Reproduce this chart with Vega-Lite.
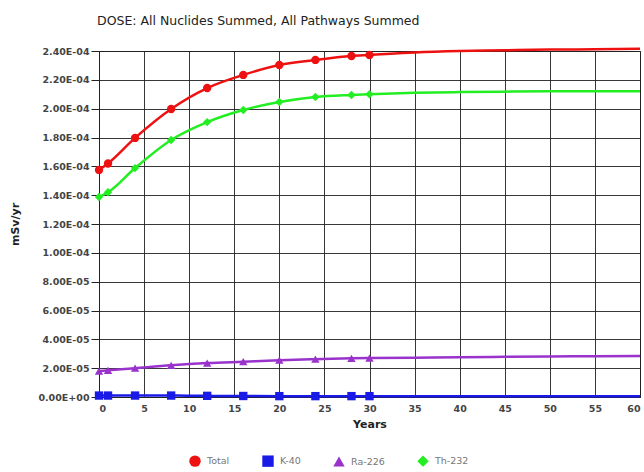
{
  "$schema": "https://vega.github.io/schema/vega-lite/v6.json",
  "width": 541,
  "height": 346,
  "autosize": "none",
  "padding": {"left": 99, "top": 51, "right": 4, "bottom": 75},
  "background": "white",
  "title": {"text": "DOSE: All Nuclides Summed, All Pathways Summed", "font": "DejaVu Sans", "fontSize": 12.5, "fontWeight": "normal", "color": "#222", "offset": 16, "anchor": "start", "frame": "group", "dx": -2},
  "config": {
    "view": {"stroke": "#222", "strokeWidth": 1},
    "axis": {"labelFont": "DejaVu Sans", "titleFont": "DejaVu Sans", "labelFontSize": 9.5, "labelFontWeight": "bold", "labelColor": "#444", "gridColor": "#222", "gridOpacity": 0.9, "domainColor": "#222", "tickColor": "#222", "titleFontSize": 11, "titleFontWeight": "bold", "titleColor": "#222"},
    "legend": {"labelFont": "DejaVu Sans", "labelFontSize": 9.5, "labelColor": "#777", "symbolSize": 130, "symbolStrokeWidth": 0, "columnPadding": 32, "labelOffset": 6}
  },
  "data": {"values": [
    {"year": 0, "series": "Total", "value": 1.575e-4, "m": true},
    {"year": 1, "series": "Total", "value": 1.62e-4, "m": true},
    {"year": 4, "series": "Total", "value": 1.797e-4, "m": true},
    {"year": 8, "series": "Total", "value": 1.998e-4, "m": true},
    {"year": 12, "series": "Total", "value": 2.143e-4, "m": true},
    {"year": 16, "series": "Total", "value": 2.234e-4, "m": true},
    {"year": 20, "series": "Total", "value": 2.303e-4, "m": true},
    {"year": 24, "series": "Total", "value": 2.338e-4, "m": true},
    {"year": 28, "series": "Total", "value": 2.365e-4, "m": true},
    {"year": 30, "series": "Total", "value": 2.372e-4, "m": true},
    {"year": 35, "series": "Total", "value": 2.39e-4, "m": false},
    {"year": 40, "series": "Total", "value": 2.40e-4, "m": false},
    {"year": 45, "series": "Total", "value": 2.405e-4, "m": false},
    {"year": 50, "series": "Total", "value": 2.41e-4, "m": false},
    {"year": 55, "series": "Total", "value": 2.412e-4, "m": false},
    {"year": 60, "series": "Total", "value": 2.415e-4, "m": false},
    {"year": 0, "series": "K-40", "value": 1e-6, "m": true},
    {"year": 1, "series": "K-40", "value": 1e-6, "m": true},
    {"year": 4, "series": "K-40", "value": 1e-6, "m": true},
    {"year": 8, "series": "K-40", "value": 1e-6, "m": true},
    {"year": 12, "series": "K-40", "value": 8e-7, "m": true},
    {"year": 16, "series": "K-40", "value": 7e-7, "m": true},
    {"year": 20, "series": "K-40", "value": 6e-7, "m": true},
    {"year": 24, "series": "K-40", "value": 6e-7, "m": true},
    {"year": 28, "series": "K-40", "value": 6e-7, "m": true},
    {"year": 30, "series": "K-40", "value": 6e-7, "m": true},
    {"year": 35, "series": "K-40", "value": 5e-7, "m": false},
    {"year": 40, "series": "K-40", "value": 5e-7, "m": false},
    {"year": 45, "series": "K-40", "value": 5e-7, "m": false},
    {"year": 50, "series": "K-40", "value": 5e-7, "m": false},
    {"year": 55, "series": "K-40", "value": 5e-7, "m": false},
    {"year": 60, "series": "K-40", "value": 5e-7, "m": false},
    {"year": 0, "series": "Ra-226", "value": 1.8e-5, "m": true},
    {"year": 1, "series": "Ra-226", "value": 1.85e-5, "m": true},
    {"year": 4, "series": "Ra-226", "value": 2.0e-5, "m": true},
    {"year": 8, "series": "Ra-226", "value": 2.2e-5, "m": true},
    {"year": 12, "series": "Ra-226", "value": 2.35e-5, "m": true},
    {"year": 16, "series": "Ra-226", "value": 2.45e-5, "m": true},
    {"year": 20, "series": "Ra-226", "value": 2.55e-5, "m": true},
    {"year": 24, "series": "Ra-226", "value": 2.62e-5, "m": true},
    {"year": 28, "series": "Ra-226", "value": 2.68e-5, "m": true},
    {"year": 30, "series": "Ra-226", "value": 2.7e-5, "m": true},
    {"year": 35, "series": "Ra-226", "value": 2.73e-5, "m": false},
    {"year": 40, "series": "Ra-226", "value": 2.76e-5, "m": false},
    {"year": 45, "series": "Ra-226", "value": 2.79e-5, "m": false},
    {"year": 50, "series": "Ra-226", "value": 2.81e-5, "m": false},
    {"year": 55, "series": "Ra-226", "value": 2.83e-5, "m": false},
    {"year": 60, "series": "Ra-226", "value": 2.85e-5, "m": false},
    {"year": 0, "series": "Th-232", "value": 1.387e-4, "m": true},
    {"year": 1, "series": "Th-232", "value": 1.42e-4, "m": true},
    {"year": 4, "series": "Th-232", "value": 1.588e-4, "m": true},
    {"year": 8, "series": "Th-232", "value": 1.783e-4, "m": true},
    {"year": 12, "series": "Th-232", "value": 1.907e-4, "m": true},
    {"year": 16, "series": "Th-232", "value": 1.991e-4, "m": true},
    {"year": 20, "series": "Th-232", "value": 2.046e-4, "m": true},
    {"year": 24, "series": "Th-232", "value": 2.081e-4, "m": true},
    {"year": 28, "series": "Th-232", "value": 2.095e-4, "m": true},
    {"year": 30, "series": "Th-232", "value": 2.10e-4, "m": true},
    {"year": 35, "series": "Th-232", "value": 2.11e-4, "m": false},
    {"year": 40, "series": "Th-232", "value": 2.115e-4, "m": false},
    {"year": 45, "series": "Th-232", "value": 2.118e-4, "m": false},
    {"year": 50, "series": "Th-232", "value": 2.12e-4, "m": false},
    {"year": 55, "series": "Th-232", "value": 2.12e-4, "m": false},
    {"year": 60, "series": "Th-232", "value": 2.12e-4, "m": false}
  ]},
  "encoding": {
    "x": {"field": "year", "type": "quantitative", "scale": {"domain": [0, 60], "nice": false},
      "axis": {"title": "Years", "values": [0,5,10,15,20,25,30,35,40,45,50,55,60], "ticks": false, "labelPadding": 6, "titlePadding": 6}},
    "y": {"field": "value", "type": "quantitative", "scale": {"domain": [0, 0.00024], "nice": false},
      "axis": {"title": "mSv/yr", "titlePadding": 17, "tickSize": 8, "labelPadding": 2,
        "values": [0, 0.00002, 0.00004, 0.00006, 0.00008, 0.0001, 0.00012, 0.00014, 0.00016, 0.00018, 0.0002, 0.00022, 0.00024],
        "labelExpr": "datum.value == 0 ? '0.00E+00' : replace(format(datum.value, '.2e'), regexp('e-(\\\\d)$'), 'E-0$1')"}},
    "color": {"field": "series", "type": "nominal",
      "scale": {"domain": ["Total", "K-40", "Ra-226", "Th-232"], "range": ["#ee1111", "#1a1ae6", "#9933cc", "#22ee22"]},
      "legend": {"title": null, "orient": "none", "direction": "horizontal", "legendX": 90, "legendY": 404}}
  },
  "layer": [
    {"mark": {"type": "line", "strokeWidth": 2.5, "interpolate": "monotone"}},
    {"transform": [{"filter": "datum.m"}],
     "mark": {"type": "point", "filled": true, "opacity": 1, "size": 70},
     "encoding": {
       "shape": {"field": "series", "type": "nominal", "scale": {"domain": ["Total", "K-40", "Ra-226", "Th-232"], "range": ["circle", "square", "triangle-up", "diamond"]},
         "legend": {"title": null, "orient": "none", "direction": "horizontal", "legendX": 90, "legendY": 404}}
     }}
  ]
}
